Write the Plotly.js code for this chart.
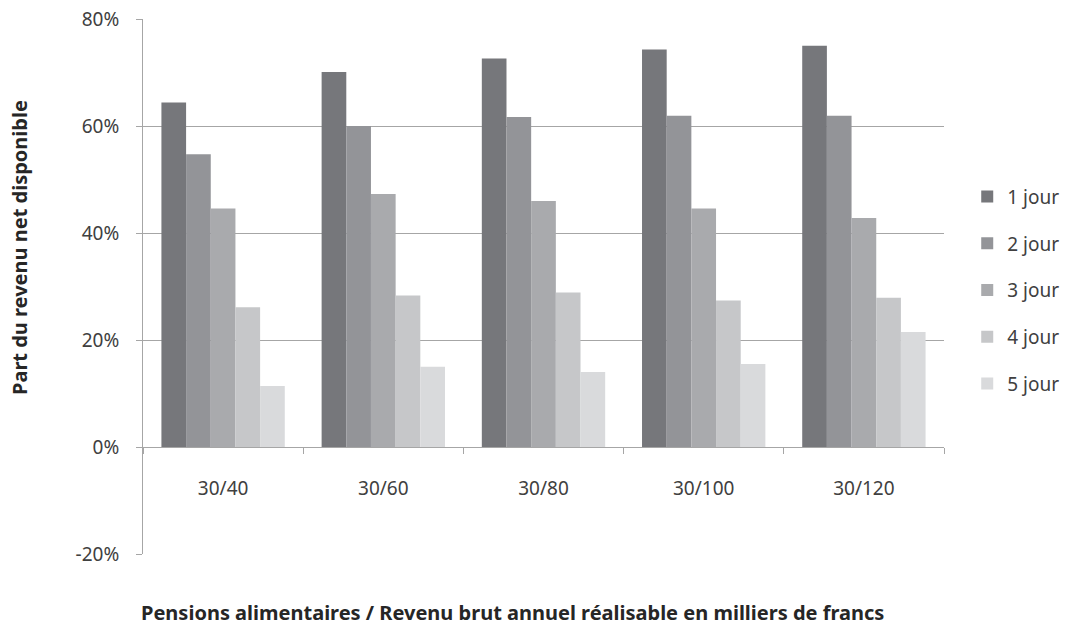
<!DOCTYPE html>
<html>
<head>
<meta charset="utf-8">
<script src="https://cdn.plot.ly/plotly-3.0.1.min.js"></script>
<style>html,body{margin:0;padding:0;background:#fff;}</style>
</head>
<body>
<div id="chart" style="width:1071px;height:628px;"></div>
<script>
var categories = ["30/40", "30/60", "30/80", "30/100", "30/120"];
var seriesNames = ["1 jour", "2 jour", "3 jour", "4 jour", "5 jour"];
var jour1 = [0.644, 0.701, 0.726, 0.743, 0.750];
var jour2 = [0.547, 0.600, 0.617, 0.619, 0.619];
var jour3 = [0.446, 0.473, 0.460, 0.446, 0.428];
var jour4 = [0.261, 0.283, 0.289, 0.274, 0.279];
var jour5 = [0.114, 0.150, 0.140, 0.155, 0.215];
var yTickVals = [-0.2, 0, 0.2, 0.4, 0.6, 0.8];
var yTickText = ["-20%", "0%", "20%", "40%", "60%", "80%"];
var xTitle = "Pensions alimentaires / Revenu brut annuel réalisable en milliers de francs";
var yTitle = "Part du revenu net disponible";

var colors = ["#76777b", "#939498", "#a9aaad", "#c6c7c9", "#d9dadc"];
var allSeries = [jour1, jour2, jour3, jour4, jour5];
var font = "'Noto Sans', 'Open Sans', sans-serif";

var traces = allSeries.map(function (vals, i) {
  return {
    type: "bar",
    name: seriesNames[i],
    x: categories,
    y: vals,
    legendgroup: "g" + i,
    marker: { color: colors[i], line: { width: 0 } },
    hoverinfo: "x+y+name"
  };
});

var layout = {
  width: 1071,
  height: 628,
  margin: { l: 143, r: 127, t: 19, b: 74, autoexpand: false },
  paper_bgcolor: "#ffffff",
  plot_bgcolor: "#ffffff",
  barmode: "group",
  bargap: 0.23,
  bargroupgap: 0,
  font: { family: font, color: "#404040", size: 19 },
  xaxis: {
    type: "category",
    anchor: "free",
    position: 0.2,
    showline: true,
    linecolor: "#a6a6a6",
    linewidth: 1,
    ticks: "outside",
    tickson: "boundaries",
    ticklen: 6,
    tickcolor: "#a6a6a6",
    ticklabelstandoff: 24,
    tickfont: { family: font, size: 19, color: "#404040" },
    showgrid: false,
    zeroline: false
  },
  yaxis: {
    range: [-0.2, 0.8],
    tickvals: yTickVals,
    ticktext: yTickText,
    showline: true,
    linecolor: "#a6a6a6",
    linewidth: 1,
    ticks: "outside",
    ticklen: 6,
    tickcolor: "#a6a6a6",
    ticklabelstandoff: 13,
    gridcolor: "#a6a6a6",
    gridwidth: 1,
    zeroline: false,
    tickfont: { family: font, size: 19, color: "#404040" }
  },
  legend: {
    x: 1.029,
    xanchor: "left",
    y: 0.493,
    yanchor: "middle",
    traceorder: "grouped",
    tracegroupgap: 19,
    font: { family: font, size: 19, color: "#404040" },
    bgcolor: "rgba(0,0,0,0)"
  },
  annotations: [
    {
      text: "<b>" + xTitle + "</b>",
      xref: "paper", yref: "paper",
      x: (512 - 143) / 801, y: (554 - 612) / 535,
      xanchor: "center", yanchor: "middle",
      showarrow: false,
      font: { family: font, size: 20, color: "#262626" }
    },
    {
      text: "<b>" + yTitle + "</b>",
      xref: "paper", yref: "paper",
      x: (19 - 143) / 801, y: (554 - 248) / 535,
      xanchor: "center", yanchor: "middle",
      textangle: -90,
      showarrow: false,
      font: { family: font, size: 20, color: "#262626" }
    }
  ]
};

Plotly.newPlot("chart", traces, layout, { displayModeBar: false, staticPlot: true });
</script>
</body>
</html>
